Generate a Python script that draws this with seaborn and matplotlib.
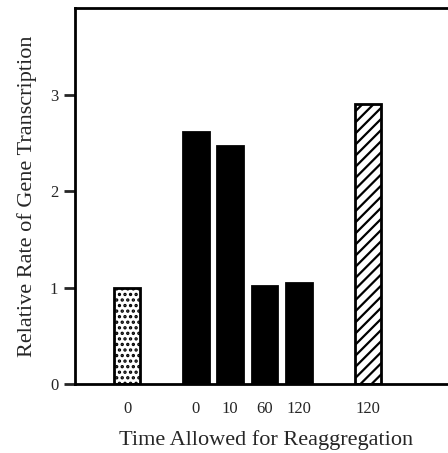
import numpy as np
import pandas as pd
import seaborn as sns
import matplotlib.pyplot as plt

# data
positions = [0, 2, 3, 4, 5, 7]
tick_labels = ["0", "0", "10", "60", "120", "120"]
rates = [1.00, 2.61, 2.47, 1.02, 1.05, 2.90]
groups = ["control", "reagg", "reagg", "reagg", "reagg", "treated"]

df = pd.DataFrame({"pos": positions, "rate": rates, "group": groups})

sns.set_style("ticks")
plt.rcParams["font.family"] = ["Liberation Serif", "DejaVu Serif"]
plt.rcParams["hatch.linewidth"] = 1.6

fig = plt.figure(figsize=(4.48, 4.53), dpi=100)
ax = fig.add_axes([75 / 448, 1 - 384 / 453, 1.02 - 75 / 448, (384 - 8) / 453])

pal = {"control": "white", "reagg": "black", "treated": "white"}
sns.barplot(data=df, x="pos", y="rate", hue="group", palette=pal, native_scale=True,
            dodge=False, width=0.75, edgecolor="black", linewidth=2, legend=False,
            ax=ax, saturation=1)

hatches = {"control": "...", "reagg": "", "treated": "///"}
for bar, g in zip(sorted(ax.patches, key=lambda p: p.get_x()), df.sort_values("pos").group):
    bar.set_hatch(hatches[g])

ax.set_xlim(-1.52, 9.6)
ax.set_ylim(0, 3.9)
ax.set_yticks([0, 1, 2, 3])
ax.set_yticklabels(["0", "1", "2", "3"], fontsize=12)
ax.set_xticks(positions)
ax.set_xticklabels(tick_labels, fontsize=12)
ax.tick_params(axis="x", length=0, pad=12)
ax.tick_params(axis="y", length=8, width=2, pad=4)

for s in ["left", "bottom", "top", "right"]:
    ax.spines[s].set_visible(True)
    ax.spines[s].set_linewidth(2)
    ax.spines[s].set_color("black")

ax.set_xlabel("Time Allowed for Reaggregation", fontsize=16, labelpad=10)
ax.set_ylabel("Relative Rate of Gene Transcription", fontsize=16, labelpad=9)

fig.savefig("out.png", dpi=100)
